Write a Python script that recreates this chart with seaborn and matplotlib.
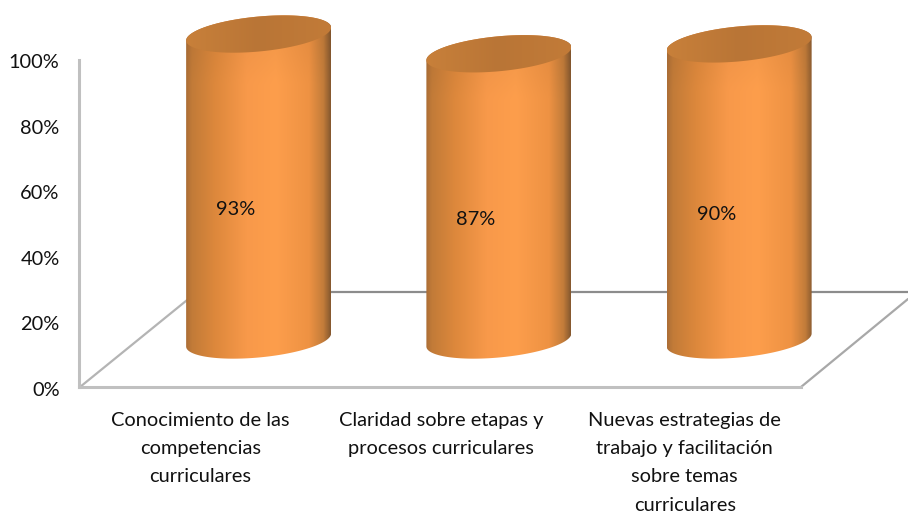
import numpy as np
import pandas as pd
import seaborn as sns
import matplotlib.pyplot as plt
from matplotlib.lines import Line2D
from matplotlib.patches import Polygon
from matplotlib.colors import LinearSegmentedColormap
from matplotlib.transforms import ScaledTranslation

categories = ["Conocimiento de las\ncompetencias\ncurriculares",
              "Claridad sobre etapas y\nprocesos curriculares",
              "Nuevas estrategias de\ntrabajo y facilitación\nsobre temas\ncurriculares"]
values = [93, 87, 90]
y_ticks = [0, 20, 40, 60, 80, 100]

W, H = 908, 516
FS = 14.4
sns.set_theme(style="white")
plt.rcParams['font.family'] = ['Lato', 'DejaVu Sans']

fig = plt.figure(figsize=(W / 100, H / 100), dpi=100)


def box(left, right, top, bottom):
    return [left / W, 1 - bottom / H, (right - left) / W, (bottom - top) / H]


def px(x, y):
    return x / W, 1 - y / H


# back edges of the floor
for (x0, y0), (x1, y1), c, lw in [((80, 387), (197, 292), "#b4b4b4", 1.6),
                                  ((801, 387), (908, 299), "#a8a8a8", 1.6),
                                  ((197, 292), (908, 292), "#8c8c8c", 1.6)]:
    a, b = px(x0, y0), px(x1, y1)
    fig.add_artist(Line2D([a[0], b[0]], [a[1], b[1]], color=c, lw=lw, zorder=-1))

# front axis: ticks and labels
ax = fig.add_axes(box(79, 801, 60, 387))
ax.patch.set_alpha(0)
ax.set_xlim(-0.5, 2.5)
ax.set_ylim(0, 100)
ax.set_xticks(range(3))
ax.set_xticklabels(categories, fontsize=FS, color="#111111", linespacing=1.8, va="top")
ax.set_yticks(y_ticks)
ax.set_yticklabels([f"{v}%" for v in y_ticks], fontsize=FS, color="#111111")
ax.tick_params(length=0)
ax.tick_params(axis="y", pad=14)
ax.tick_params(axis="x", pad=18)
for lab, dx in zip(ax.get_xticklabels(), [1, 1, 4]):
    lab.set_transform(lab.get_transform() + ScaledTranslation(dx / 100, 0, fig.dpi_scale_trans))
for lab in ax.get_yticklabels():
    lab.set_transform(lab.get_transform() + ScaledTranslation(0, -1.5 / 100, fig.dpi_scale_trans))
for s in ["top", "right"]:
    ax.spines[s].set_visible(False)
for s in ["left", "bottom"]:
    ax.spines[s].set_color("#c0c0c0")
    ax.spines[s].set_linewidth(2.2)

# cylinders: bars placed in the plane behind the front axis
PX_PER_PCT = 3.29
ax3d = fig.add_axes(box(138.5, 859.25, 340 - 100 * PX_PER_PCT, 340 + 10 * PX_PER_PCT))
ax3d.patch.set_alpha(0)
df = pd.DataFrame({"cat": categories, "val": values})
sns.barplot(data=df, x="cat", y="val", ax=ax3d, width=145 / 240.25, color="#fb9c4b")
ax3d.set_xlim(-0.5, 2.5)
ax3d.set_ylim(-10, 100)
ax3d.axis("off")

side = LinearSegmentedColormap.from_list("side", [
    (0.0, "#ac6e36"), (0.04, "#c27b38"), (0.2, "#dd883c"), (0.42, "#f8994a"),
    (0.62, "#fd9e4c"), (0.85, "#ee9243"), (0.95, "#c27c3a"), (1.0, "#85582f")])
lid = LinearSegmentedColormap.from_list("lid", [
    (0.0, "#c8803a"), (0.5, "#b97536"), (1.0, "#c27b38")])

B = 17.5 / PX_PER_PCT
K = 6.5 / PX_PER_PCT
t = np.linspace(0, 2 * np.pi, 200)

for bar, val in zip(ax3d.patches, values):
    bar.set_facecolor("none")
    bar.set_edgecolor("none")
    cx = bar.get_x() + bar.get_width() / 2
    a = bar.get_width() / 2

    front = t[t >= np.pi]
    back = t[t <= np.pi]
    body = np.r_[np.c_[cx + a * np.cos(front), B * np.sin(front) + K * np.cos(front)],
                 np.c_[cx + a * np.cos(back), val + B * np.sin(back) + K * np.cos(back)]]
    clip = Polygon(body, closed=True, transform=ax3d.transData, fc="none", ec="none")
    ax3d.add_patch(clip)
    grad = side(np.linspace(0, 1, 256))[None, :, :3].repeat(64, axis=0)
    # top of the body is a little darker, the foot a little lighter
    v = np.linspace(0, 1, 64)[:, None, None]
    grad = np.clip(grad * (0.94 + 0.06 * np.minimum(v * 5, 1)), 0, 1)
    im = ax3d.imshow(grad, extent=[cx - a, cx + a, -B - K, val + B + K],
                     aspect="auto", origin="upper", zorder=3, interpolation="bilinear")
    im.set_clip_path(clip)

    top = np.c_[cx + a * np.cos(t), val + B * np.sin(t) + K * np.cos(t)]
    clip2 = Polygon(top, closed=True, transform=ax3d.transData, fc="none", ec="none")
    ax3d.add_patch(clip2)
    im2 = ax3d.imshow(lid(np.linspace(0, 1, 128))[None, :, :3],
                      extent=[cx - a, cx + a, val - B - K, val + B + K],
                      aspect="auto", zorder=4, interpolation="bilinear")
    im2.set_clip_path(clip2)

    ax3d.annotate(f"{val}%", xy=(cx, val / 2), xytext=(-23 * 0.72, -22.5 * 0.72),
                  textcoords="offset points", ha="center", va="center",
                  fontsize=FS, color="#111111", zorder=6)

ax3d.set_xlim(-0.5, 2.5)
ax3d.set_ylim(-10, 100)

fig.savefig("out.png", dpi=100)
